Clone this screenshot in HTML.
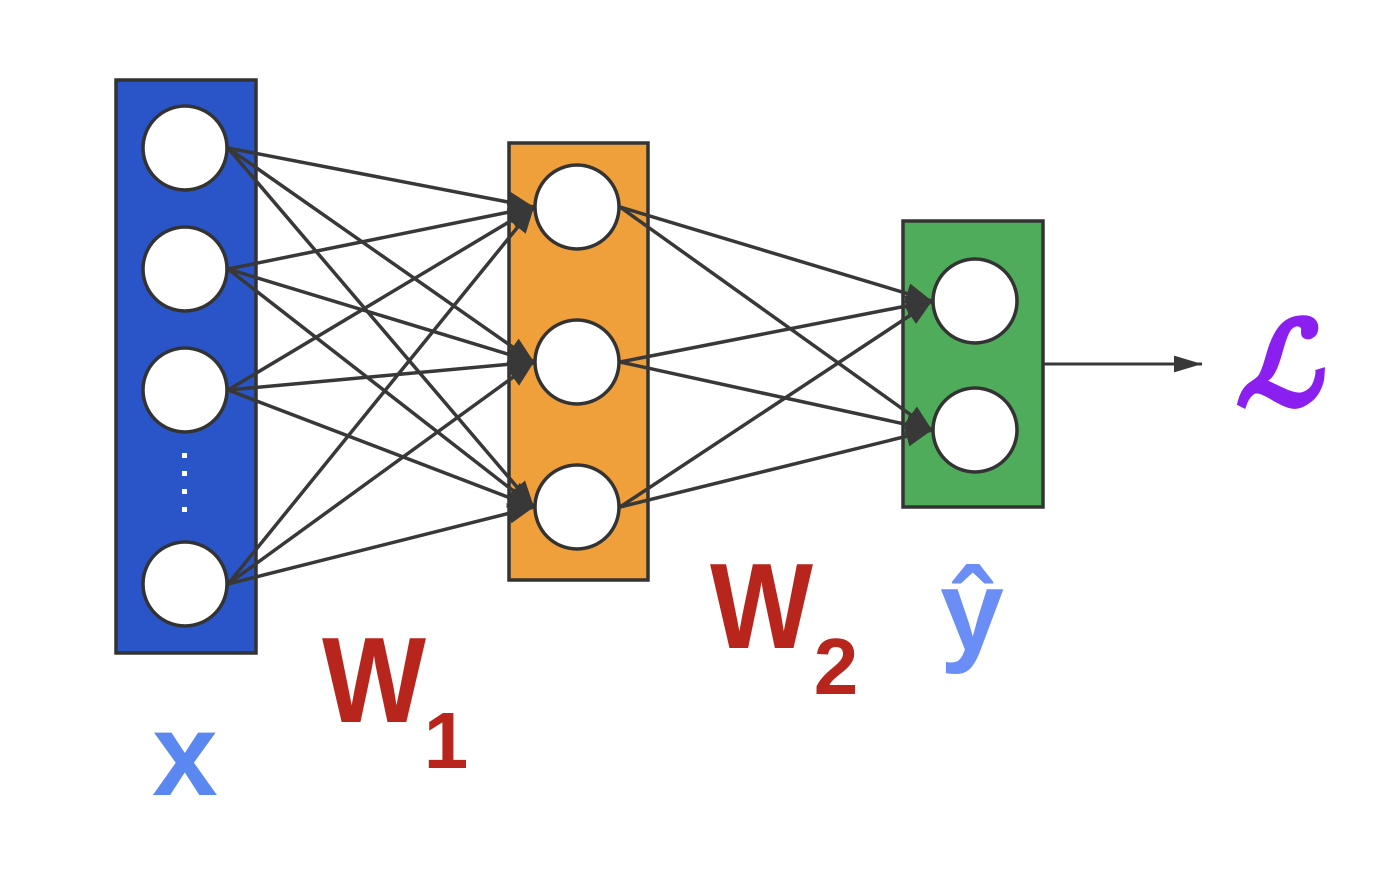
<!DOCTYPE html>
<html><head><style>html,body{margin:0;padding:0;background:#fff}svg{display:block}</style></head><body>
<svg width="1386" height="884" xmlns="http://www.w3.org/2000/svg">
<defs>
<marker id="b" viewBox="0 0 10 8" refX="10" refY="4" markerWidth="26" markerHeight="21" orient="auto" markerUnits="userSpaceOnUse"><path d="M0,0 L10,4 L0,8 z" fill="#383838"/></marker>
<marker id="c" viewBox="0 0 10 6" refX="10" refY="3" markerWidth="28" markerHeight="17" orient="auto" markerUnits="userSpaceOnUse"><path d="M0,0 L10,3 L0,6 z" fill="#383838"/></marker></defs>
<rect x="116" y="80" width="140" height="573" fill="#2a55c8" stroke="#333" stroke-width="3.5"/>
<rect x="509" y="143" width="139" height="437" fill="#f0a03a" stroke="#333" stroke-width="3.5"/>
<rect x="903" y="221" width="140" height="286" fill="#4fac5a" stroke="#333" stroke-width="3.5"/>
<g stroke="#383838" stroke-width="3.5" fill="none" marker-end="url(#b)">
<line x1="228" y1="148" x2="534" y2="207"/><line x1="228" y1="148" x2="534" y2="362"/><line x1="228" y1="148" x2="534" y2="507"/>
<line x1="228" y1="269" x2="534" y2="207"/><line x1="228" y1="269" x2="534" y2="362"/><line x1="228" y1="269" x2="534" y2="507"/>
<line x1="228" y1="390" x2="534" y2="207"/><line x1="228" y1="390" x2="534" y2="362"/><line x1="228" y1="390" x2="534" y2="507"/>
<line x1="228" y1="584" x2="534" y2="207"/><line x1="228" y1="584" x2="534" y2="362"/><line x1="228" y1="584" x2="534" y2="507"/>
<line x1="620" y1="207" x2="932" y2="301"/><line x1="620" y1="207" x2="932" y2="430"/>
<line x1="620" y1="362" x2="932" y2="301"/><line x1="620" y1="362" x2="932" y2="430"/>
<line x1="620" y1="507" x2="932" y2="301"/><line x1="620" y1="507" x2="932" y2="430"/>
</g>
<line x1="1043" y1="364" x2="1202" y2="364" stroke="#383838" stroke-width="3" marker-end="url(#c)"/>
<g fill="#fff" stroke="#333" stroke-width="3.5">
<circle cx="185" cy="148" r="42"/><circle cx="185" cy="269" r="42"/><circle cx="185" cy="390" r="42"/><circle cx="185" cy="584" r="42"/>
<circle cx="577" cy="207" r="42"/><circle cx="577" cy="362" r="42"/><circle cx="577" cy="507" r="42"/>
<circle cx="975" cy="301" r="42"/><circle cx="975" cy="430" r="42"/>
</g>
<g fill="#fff"><rect x="182" y="453" width="5" height="5"/><rect x="182" y="471" width="5" height="5"/><rect x="182" y="489" width="5" height="5"/><rect x="182" y="507" width="5" height="5"/></g>
<g font-family="Liberation Sans, sans-serif" font-weight="bold">
<text x="185" y="795" font-size="118" fill="#5b88f0" text-anchor="middle">x</text>
<text x="322" y="722" font-size="122" fill="#b8251c" textLength="104" lengthAdjust="spacingAndGlyphs">W</text>
<text x="446" y="768" font-size="80" fill="#b8251c" text-anchor="middle">1</text>
<text x="710" y="648" font-size="122" fill="#b8251c" textLength="103" lengthAdjust="spacingAndGlyphs">W</text>
<text x="836" y="694" font-size="80" fill="#b8251c" text-anchor="middle">2</text>
<text x="972" y="650" font-size="115" fill="#6a8ef5" text-anchor="middle">ŷ</text>
</g>
<text x="1278" y="404" font-family="DejaVu Serif, serif" font-style="italic" font-weight="bold" font-size="115" fill="#8a1ff0" stroke="#8a1ff0" stroke-width="3" text-anchor="middle">ℒ</text>
</svg>
</body></html>
